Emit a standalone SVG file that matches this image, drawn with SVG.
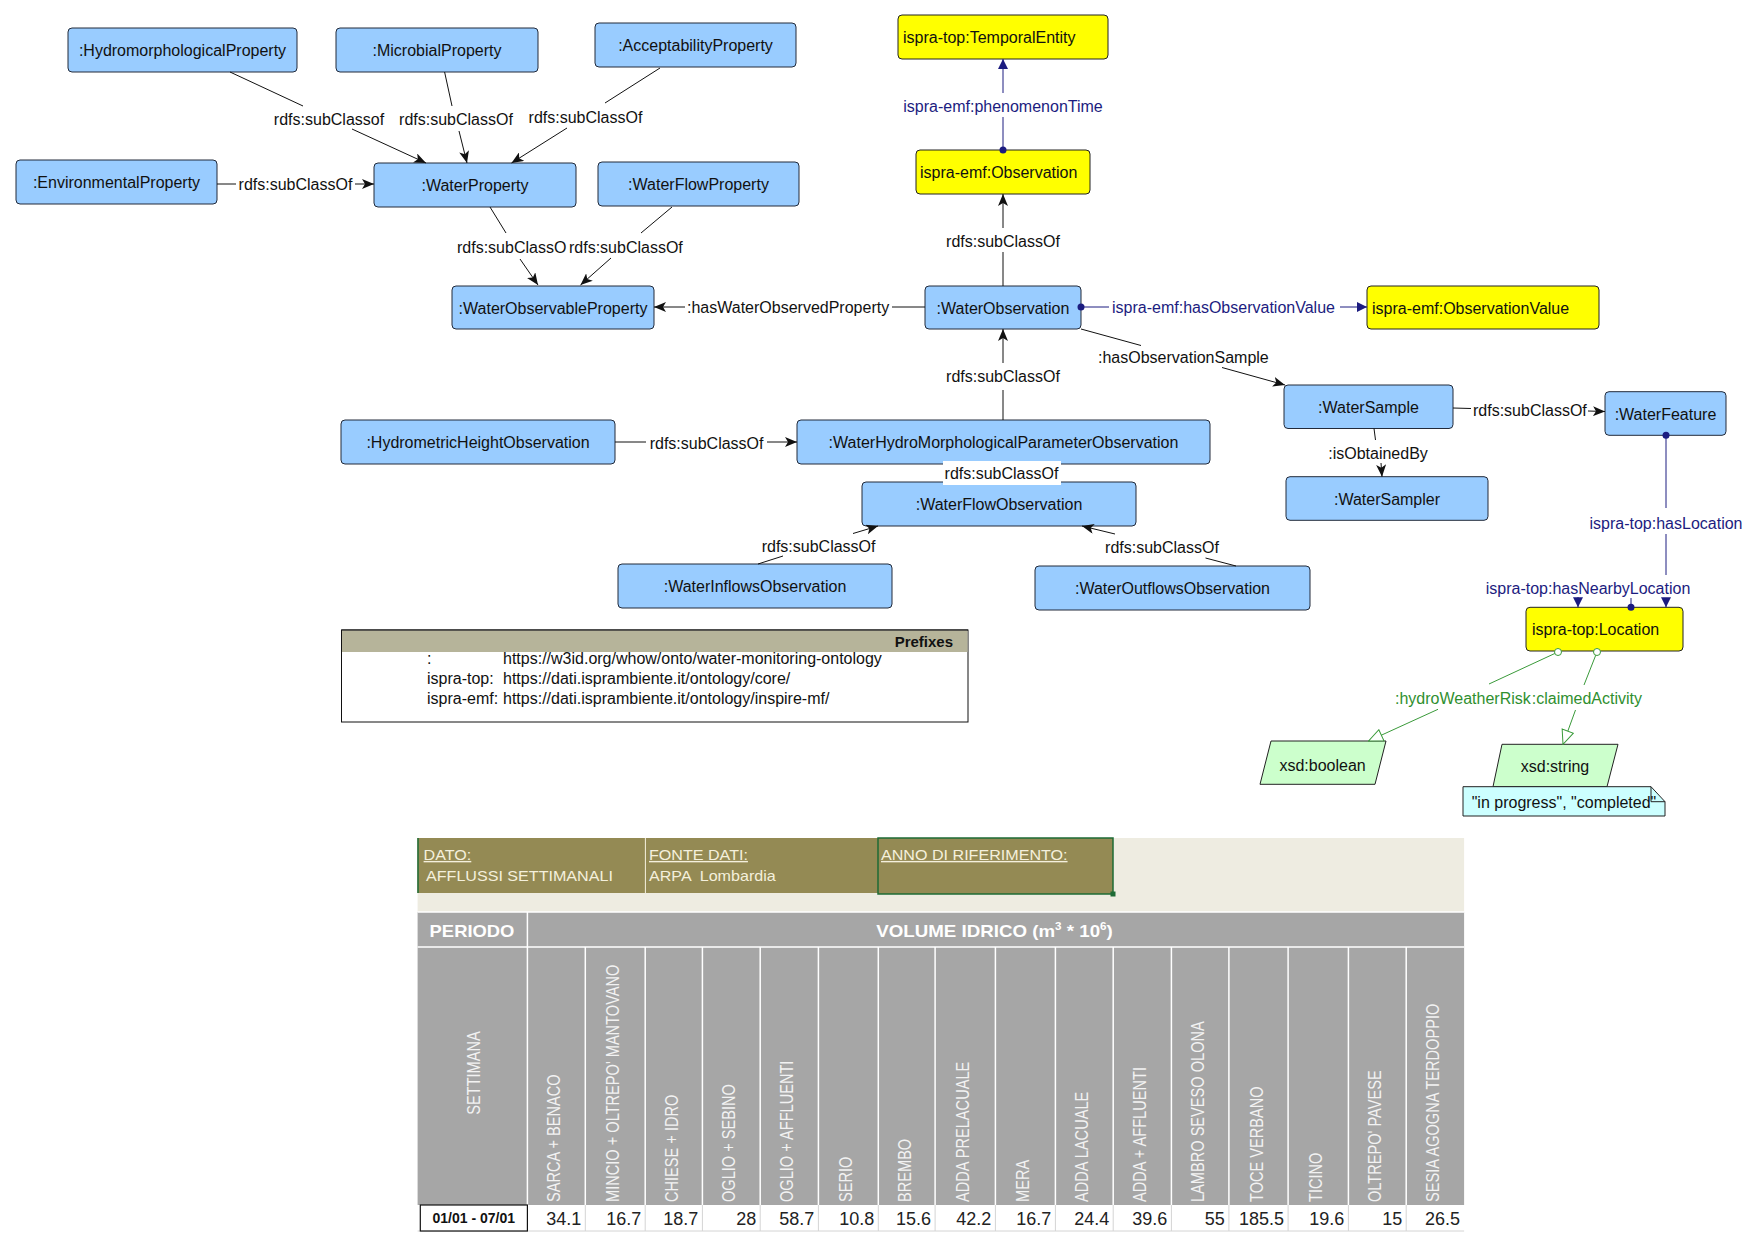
<svg xmlns="http://www.w3.org/2000/svg" width="1760" height="1257" viewBox="0 0 1760 1257">
<style>
.t{font-family:"Liberation Sans",Arial,sans-serif;font-size:16px;fill:#111}
.m{text-anchor:middle}
.nb{fill:#99ccff;stroke:#222a3a;stroke-width:1}
.ny{fill:#ffff00;stroke:#222;stroke-width:1}
.ng{fill:#ccffcc;stroke:#222;stroke-width:1}
.e{fill:none;stroke:#111;stroke-width:1}
.en{fill:none;stroke:#1c1c80;stroke-width:1}
.eg{fill:none;stroke:#3a9a3a;stroke-width:1}
.nav{fill:#1c1c80}
.grn{fill:#2f8f2f}
.tw{font-family:"Liberation Sans",Arial,sans-serif;fill:#f4f0dc;font-size:14px}
.th{font-family:"Liberation Sans",Arial,sans-serif;fill:#f2f2f2;font-size:14.6px}
.tv{font-family:"Liberation Sans",Arial,sans-serif;fill:#222;font-size:18px;text-anchor:end}
</style>
<defs>
<marker id="ab" viewBox="0 0 12 10" refX="12" refY="5" markerWidth="12" markerHeight="10" markerUnits="userSpaceOnUse" orient="auto"><path d="M0,0 L12,5 L0,10 L3,5 Z" fill="#111"/></marker>
<marker id="an" viewBox="0 0 10 10" refX="10" refY="5" markerWidth="10" markerHeight="10" markerUnits="userSpaceOnUse" orient="auto"><path d="M0,0 L10,5 L0,10 Z" fill="#1c1c80"/></marker>
<marker id="ag" viewBox="0 0 16 14" refX="15" refY="7" markerWidth="16" markerHeight="14" markerUnits="userSpaceOnUse" orient="auto"><path d="M1,1 L15,7 L1,13 Z" fill="#fff" stroke="#3a9a3a" stroke-width="1"/></marker>
</defs>
<rect width="1760" height="1257" fill="#fff"/>

<g id="n1"><rect class="nb" x="68" y="28" width="229" height="44" rx="4"/><text class="t m" x="182.5" y="56">:HydromorphologicalProperty</text></g>
<g id="n2"><rect class="nb" x="336" y="28" width="202" height="44" rx="4"/><text class="t m" x="437" y="56">:MicrobialProperty</text></g>
<g id="n3"><rect class="nb" x="595" y="23" width="201" height="44" rx="4"/><text class="t m" x="695.5" y="51">:AcceptabilityProperty</text></g>
<g id="n4"><rect class="nb" x="16" y="160" width="201" height="44" rx="4"/><text class="t m" x="116.5" y="188">:EnvironmentalProperty</text></g>
<g id="n5"><rect class="nb" x="374" y="163" width="202" height="44" rx="4"/><text class="t m" x="475" y="191">:WaterProperty</text></g>
<g id="n6"><rect class="nb" x="598" y="162" width="201" height="44" rx="4"/><text class="t m" x="698.5" y="190">:WaterFlowProperty</text></g>
<g id="n7"><rect class="nb" x="452" y="286" width="202" height="43" rx="4"/><text class="t m" x="553" y="313.5">:WaterObservableProperty</text></g>
<g id="n8"><rect class="ny" x="898" y="15" width="210" height="44" rx="4"/><text class="t" x="903" y="43">ispra-top:TemporalEntity</text></g>
<g id="n9"><rect class="ny" x="916" y="150" width="174" height="44" rx="4"/><text class="t" x="920" y="178">ispra-emf:Observation</text></g>
<g id="n10"><rect class="nb" x="925" y="286" width="156" height="43" rx="4"/><text class="t m" x="1003" y="313.5">:WaterObservation</text></g>
<g id="n11"><rect class="ny" x="1367" y="286" width="232" height="43" rx="4"/><text class="t" x="1372" y="313.5">ispra-emf:ObservationValue</text></g>
<g id="n12"><rect class="nb" x="341" y="420" width="274" height="44" rx="4"/><text class="t m" x="478" y="448">:HydrometricHeightObservation</text></g>
<g id="n13"><rect class="nb" x="797" y="420" width="413" height="44" rx="4"/><text class="t m" x="1003.5" y="448">:WaterHydroMorphologicalParameterObservation</text></g>
<g id="n14"><rect class="nb" x="862" y="482" width="274" height="44" rx="4"/><text class="t m" x="999" y="510">:WaterFlowObservation</text></g>
<g id="n15"><rect class="nb" x="618" y="564" width="274" height="44" rx="4"/><text class="t m" x="755" y="592">:WaterInflowsObservation</text></g>
<g id="n16"><rect class="nb" x="1035" y="566" width="275" height="44" rx="4"/><text class="t m" x="1172.5" y="594">:WaterOutflowsObservation</text></g>
<g id="n17"><rect class="nb" x="1284" y="385" width="169" height="43.5" rx="4"/><text class="t m" x="1368.5" y="412.5">:WaterSample</text></g>
<g id="n18"><rect class="nb" x="1605" y="391.7" width="121" height="43.6" rx="4"/><text class="t m" x="1665.5" y="419.5">:WaterFeature</text></g>
<g id="n19"><rect class="nb" x="1286" y="476.7" width="202" height="43.6" rx="4"/><text class="t m" x="1387" y="504.5">:WaterSampler</text></g>
<g id="n20"><rect class="ny" x="1526" y="607.3" width="157" height="43.7" rx="4"/><text class="t" x="1532" y="635">ispra-top:Location</text></g>
<g id="n21"><polygon class="ng" points="1271,741 1386,741 1375,784.3 1260,784.3"/><text class="t m" x="1322.6" y="770.5">xsd:boolean</text></g>
<g id="n22"><polygon class="ng" points="1502,744.3 1618,744.3 1607,786.7 1493,786.7"/><text class="t m" x="1555" y="772">xsd:string</text></g>
<g id="n23"><path d="M1463,786.7 L1651,786.7 L1665,801.7 L1665,816 L1463,816 Z" fill="#ccffff" stroke="#222" stroke-width="1"/><path d="M1651,786.7 L1651,801.7 L1665,801.7" fill="none" stroke="#222" stroke-width="1"/><text class="t" x="1471.7" y="808">"in progress", "completed"</text></g>

<g id="prefixes">
<rect x="341.5" y="630" width="626.5" height="92" fill="#fff" stroke="#111" stroke-width="1"/>
<rect x="342" y="630.5" width="625.5" height="21.5" fill="#b6b49a"/>
<line x1="341.5" y1="630" x2="968" y2="630" stroke="#111"/>
<text class="t" x="953" y="647" text-anchor="end" style="font-weight:bold;font-size:15px">Prefixes</text>
<text class="t" x="427" y="664">:</text><text class="t" x="503" y="664">https://w3id.org/whow/onto/water-monitoring-ontology</text>
<text class="t" x="427" y="684">ispra-top:</text><text class="t" x="503" y="684">https://dati.isprambiente.it/ontology/core/</text>
<text class="t" x="427" y="704">ispra-emf:</text><text class="t" x="503" y="704">https://dati.isprambiente.it/ontology/inspire-mf/</text>
</g>

<g id="connectors">
<path class="e" d="M230,72 L303,106 M352,129 L426,163" marker-end="url(#ab)"/>
<text class="t m" x="329" y="125">rdfs:subClassof</text>
<path class="e" d="M444.6,72 L452,106 M459,131 L467,163" marker-end="url(#ab)"/>
<text class="t m" x="456" y="125">rdfs:subClassOf</text>
<path class="e" d="M660,68 L605,103 M567,128 L511.5,163" marker-end="url(#ab)"/>
<text class="t m" x="585.5" y="123">rdfs:subClassOf</text>
<path class="e" d="M217,184 L236,184 M355,184 L374,184" marker-end="url(#ab)"/>
<text class="t m" x="295.5" y="190">rdfs:subClassOf</text>
<path class="e" d="M490,207 L506,233 M520,259 L538,285" marker-end="url(#ab)"/>
<text class="t" x="457" y="253">rdfs:subClassO</text>
<path class="e" d="M672,207 L641,233 M611,258 L580.5,285" marker-end="url(#ab)"/>
<text class="t" x="569" y="253">rdfs:subClassOf</text>
<path class="e" d="M925,307 L892,307 M685,307 L654,307" marker-end="url(#ab)"/>
<text class="t" x="687" y="313">:hasWaterObservedProperty</text>
<path class="e" d="M1003,286 L1003,252 M1003,228 L1003,194" marker-end="url(#ab)"/>
<text class="t m" x="1003" y="247">rdfs:subClassOf</text>
<path class="en" d="M1003,150 L1003,117 M1003,93 L1003,59" marker-end="url(#an)"/>
<circle cx="1003" cy="150" r="3.5" class="nav"/>
<text class="t m nav" x="1003" y="112">ispra-emf:phenomenonTime</text>
<path class="en" d="M1081,307 L1109,307 M1340,307 L1367,307" marker-end="url(#an)"/>
<circle cx="1081" cy="307" r="3.5" class="nav"/>
<text class="t nav" x="1112" y="313">ispra-emf:hasObservationValue</text>
<path class="e" d="M1003,420 L1003,390 M1003,363 L1003,329" marker-end="url(#ab)"/>
<text class="t m" x="1003" y="382">rdfs:subClassOf</text>
<path class="e" d="M615,442 L646,442 M767,442 L797,442" marker-end="url(#ab)"/>
<text class="t m" x="706.6" y="449">rdfs:subClassOf</text>
<rect x="943" y="461" width="118" height="24" fill="#fff"/>
<text class="t m" x="1001.5" y="479">rdfs:subClassOf</text>
<path class="e" d="M758,564 L783,556 M853,533.5 L878,526" marker-end="url(#ab)"/>
<text class="t m" x="818.6" y="552">rdfs:subClassOf</text>
<path class="e" d="M1236,566 L1205.5,558 M1115,534 L1082,526" marker-end="url(#ab)"/>
<text class="t m" x="1162" y="553">rdfs:subClassOf</text>
<path class="e" d="M1081,329 L1141,345.5 M1222,367.5 L1285,385" marker-end="url(#ab)"/>
<text class="t" x="1098" y="363">:hasObservationSample</text>
<path class="e" d="M1453,408 L1471,408.5 M1588,411 L1605,411.5" marker-end="url(#ab)"/>
<text class="t" x="1473" y="416">rdfs:subClassOf</text>
<path class="e" d="M1374,428.5 L1375.5,440 M1381,463 L1382,476.7" marker-end="url(#ab)"/>
<text class="t m" x="1378" y="459">:isObtainedBy</text>
<path class="en" d="M1666,435.3 L1666,508 M1666,534 L1666,575 M1666,598 L1666,607.3" marker-end="url(#an)"/>
<circle cx="1666" cy="435.3" r="3.5" class="nav"/>
<text class="t m nav" x="1666" y="528.5">ispra-top:hasLocation</text>
<path class="en" d="M1631,607.3 L1631,598 M1578,597 L1578,607.3" marker-end="url(#an)"/>
<circle cx="1631" cy="607.3" r="3.5" class="nav"/>
<text class="t m nav" x="1588" y="593.5">ispra-top:hasNearbyLocation</text>
<path class="eg" d="M1558,652 L1489,684 M1438,709.3 L1368.6,741" marker-end="url(#ag)"/>
<circle cx="1558" cy="652" r="3.5" fill="#fff" stroke="#3a9a3a"/>
<path class="eg" d="M1597,652 L1584,685 M1575.5,710 L1563,744.3" marker-end="url(#ag)"/>
<circle cx="1597" cy="652" r="3.5" fill="#fff" stroke="#3a9a3a"/>
<text class="t grn" x="1395" y="704">:hydroWeatherRisk</text>
<text class="t grn" x="1642" y="704" text-anchor="end">:claimedActivity</text>
</g>

<g id="table">
<rect x="417.6" y="838" width="1046.5" height="74" fill="#eeece1"/>
<rect x="417.6" y="838" width="227.8" height="55" fill="#948a54"/>
<rect x="645.4" y="838" width="232.6" height="55" fill="#948a54"/>
<rect x="878" y="838" width="235" height="56" fill="#948a54" stroke="#1e6b35" stroke-width="1.5"/>
<rect x="1110.5" y="891.5" width="5" height="5" fill="#1e6b35"/>
<line x1="645.4" y1="838" x2="645.4" y2="893" stroke="#f4f0dc" stroke-width="1"/>
<line x1="418" y1="838" x2="418" y2="893" stroke="#1e6b35" stroke-width="1.5"/>
<text class="tw" transform="translate(423.6,860) scale(1.15,1)" text-decoration="underline">DATO:</text>
<text class="tw" transform="translate(426,881) scale(1.15,1)">AFFLUSSI SETTIMANALI</text>
<text class="tw" transform="translate(649,860) scale(1.15,1)" text-decoration="underline">FONTE DATI:</text>
<text class="tw" transform="translate(649,881) scale(1.15,1)" xml:space="preserve">ARPA  Lombardia</text>
<text class="tw" transform="translate(881,860) scale(1.15,1)" text-decoration="underline">ANNO DI RIFERIMENTO:</text>

<rect x="417.6" y="912" width="1046.5" height="293" fill="#a6a6a6"/>
<rect x="417.6" y="1205" width="1046.5" height="26" fill="#fff"/>
<g stroke="#ffffff" stroke-width="1.5">
<line x1="417.6" y1="912" x2="1464.1" y2="912"/>
<line x1="417.6" y1="947" x2="1464.1" y2="947"/>
<line x1="527.4" y1="912" x2="527.4" y2="1205"/>
<line x1="585.3" y1="947" x2="585.3" y2="1205"/><line x1="645.2" y1="947" x2="645.2" y2="1205"/><line x1="702.4" y1="947" x2="702.4" y2="1205"/><line x1="760.2" y1="947" x2="760.2" y2="1205"/><line x1="818.4" y1="947" x2="818.4" y2="1205"/><line x1="878.3" y1="947" x2="878.3" y2="1205"/><line x1="935.1" y1="947" x2="935.1" y2="1205"/><line x1="995.4" y1="947" x2="995.4" y2="1205"/><line x1="1055.4" y1="947" x2="1055.4" y2="1205"/><line x1="1113.2" y1="947" x2="1113.2" y2="1205"/><line x1="1171.4" y1="947" x2="1171.4" y2="1205"/><line x1="1228.9" y1="947" x2="1228.9" y2="1205"/><line x1="1288.1" y1="947" x2="1288.1" y2="1205"/><line x1="1348.4" y1="947" x2="1348.4" y2="1205"/><line x1="1406.2" y1="947" x2="1406.2" y2="1205"/>
</g>
<g stroke="#d4d4d4" stroke-width="1">
<line x1="585.3" y1="1205" x2="585.3" y2="1231"/><line x1="645.2" y1="1205" x2="645.2" y2="1231"/><line x1="702.4" y1="1205" x2="702.4" y2="1231"/><line x1="760.2" y1="1205" x2="760.2" y2="1231"/><line x1="818.4" y1="1205" x2="818.4" y2="1231"/><line x1="878.3" y1="1205" x2="878.3" y2="1231"/><line x1="935.1" y1="1205" x2="935.1" y2="1231"/><line x1="995.4" y1="1205" x2="995.4" y2="1231"/><line x1="1055.4" y1="1205" x2="1055.4" y2="1231"/><line x1="1113.2" y1="1205" x2="1113.2" y2="1231"/><line x1="1171.4" y1="1205" x2="1171.4" y2="1231"/><line x1="1228.9" y1="1205" x2="1228.9" y2="1231"/><line x1="1288.1" y1="1205" x2="1288.1" y2="1231"/><line x1="1348.4" y1="1205" x2="1348.4" y2="1231"/><line x1="1406.2" y1="1205" x2="1406.2" y2="1231"/>
<line x1="417.6" y1="1231" x2="1464.1" y2="1231"/>
</g>
<rect x="420.3" y="1205" width="107.1" height="26" fill="#fff" stroke="#111" stroke-width="1.2"/>
<text transform="translate(472,937) scale(1.15,1)" text-anchor="middle" style="font-family:'Liberation Sans',Arial,sans-serif;font-size:16px;font-weight:bold;fill:#fff">PERIODO</text>
<text transform="translate(994.5,937) scale(1.17,1)" text-anchor="middle" style="font-family:'Liberation Sans',Arial,sans-serif;font-size:16px;font-weight:bold;fill:#fff">VOLUME IDRICO (m<tspan font-size="10" dy="-7">3</tspan><tspan dy="7"> * 10</tspan><tspan font-size="10" dy="-7">6</tspan><tspan dy="7">)</tspan></text>
<text class="th" transform="translate(480,1073) scale(1.2,1) rotate(-90)" text-anchor="middle">SETTIMANA</text>
<text class="th" transform="translate(560.4,1202) scale(1.2,1) rotate(-90)">SARCA + BENACO</text>
<text class="th" transform="translate(619.3,1202) scale(1.2,1) rotate(-90)">MINCIO + OLTREPO' MANTOVANO</text>
<text class="th" transform="translate(677.8,1202) scale(1.2,1) rotate(-90)">CHIESE + IDRO</text>
<text class="th" transform="translate(735.3,1202) scale(1.2,1) rotate(-90)">OGLIO + SEBINO</text>
<text class="th" transform="translate(793.3,1202) scale(1.2,1) rotate(-90)">OGLIO + AFFLUENTI</text>
<text class="th" transform="translate(852.4,1202) scale(1.2,1) rotate(-90)">SERIO</text>
<text class="th" transform="translate(910.7,1202) scale(1.2,1) rotate(-90)">BREMBO</text>
<text class="th" transform="translate(969.3,1202) scale(1.2,1) rotate(-90)">ADDA PRELACUALE</text>
<text class="th" transform="translate(1029.4,1202) scale(1.2,1) rotate(-90)">MERA</text>
<text class="th" transform="translate(1088.3,1202) scale(1.2,1) rotate(-90)">ADDA LACUALE</text>
<text class="th" transform="translate(1146.3,1202) scale(1.2,1) rotate(-90)">ADDA + AFFLUENTI</text>
<text class="th" transform="translate(1204.2,1202) scale(1.2,1) rotate(-90)">LAMBRO SEVESO OLONA</text>
<text class="th" transform="translate(1262.5,1202) scale(1.2,1) rotate(-90)">TOCE VERBANO</text>
<text class="th" transform="translate(1322.3,1202) scale(1.2,1) rotate(-90)">TICINO</text>
<text class="th" transform="translate(1381.3,1202) scale(1.2,1) rotate(-90)">OLTREPO' PAVESE</text>
<text class="th" transform="translate(1439.2,1202) scale(1.2,1) rotate(-90)">SESIA AGOGNA TERDOPPIO</text>
<text x="473.8" y="1223" text-anchor="middle" style="font-family:'Liberation Sans',Arial,sans-serif;font-size:14px;font-weight:bold;fill:#111">01/01 - 07/01</text>
<text class="tv" x="581.3" y="1225">34.1</text>
<text class="tv" x="641.2" y="1225">16.7</text>
<text class="tv" x="698.4" y="1225">18.7</text>
<text class="tv" x="756.2" y="1225">28</text>
<text class="tv" x="814.4" y="1225">58.7</text>
<text class="tv" x="874.3" y="1225">10.8</text>
<text class="tv" x="931.1" y="1225">15.6</text>
<text class="tv" x="991.4" y="1225">42.2</text>
<text class="tv" x="1051.4" y="1225">16.7</text>
<text class="tv" x="1109.2" y="1225">24.4</text>
<text class="tv" x="1167.4" y="1225">39.6</text>
<text class="tv" x="1224.9" y="1225">55</text>
<text class="tv" x="1284.1" y="1225">185.5</text>
<text class="tv" x="1344.4" y="1225">19.6</text>
<text class="tv" x="1402.2" y="1225">15</text>
<text class="tv" x="1460.1" y="1225">26.5</text>
</g>
</svg>
